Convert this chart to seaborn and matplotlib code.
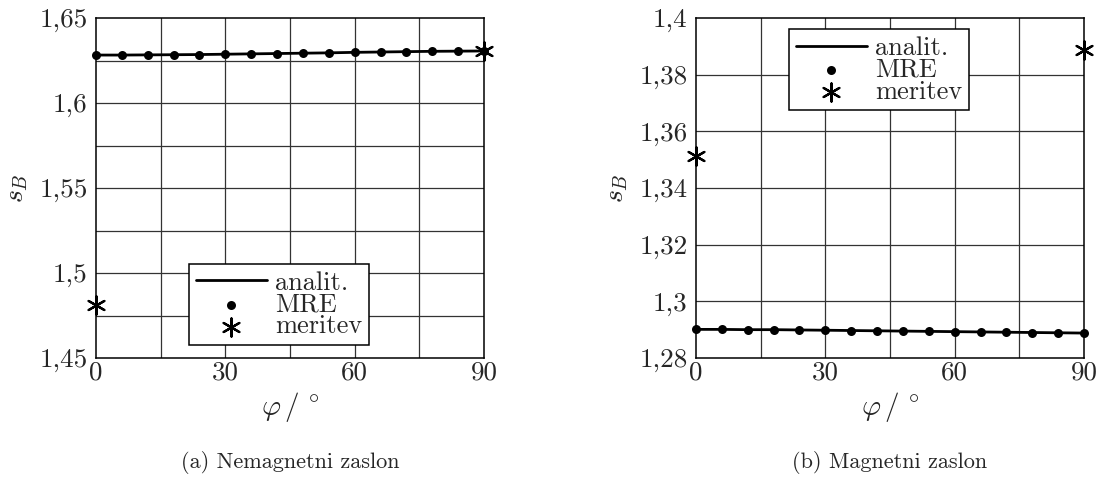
import numpy as np
import pandas as pd
import matplotlib
matplotlib.use("Agg")
import matplotlib.pyplot as plt
import seaborn as sns

# ---- data ----
phi = [0, 6, 12, 18, 24, 30, 36, 42, 48, 54, 60, 66, 72, 78, 84, 90]
left_analit = [1.6282, 1.6282, 1.6283, 1.6284, 1.6285, 1.6287, 1.6289, 1.6291,
               1.6293, 1.6295, 1.6298, 1.6300, 1.6302, 1.6304, 1.6305, 1.6306]
left_mre = [1.6282, 1.6282, 1.6283, 1.6284, 1.6285, 1.6287, 1.6289, 1.6291,
            1.6293, 1.6295, 1.6298, 1.6300, 1.6302, 1.6304, 1.6305, 1.6306]
right_analit = [1.2901, 1.2901, 1.2900, 1.2900, 1.2899, 1.2898, 1.2897, 1.2896,
                1.2895, 1.2894, 1.2893, 1.2892, 1.2891, 1.2890, 1.2889, 1.2888]
right_mre = [1.2901, 1.2901, 1.2900, 1.2900, 1.2899, 1.2898, 1.2897, 1.2896,
             1.2895, 1.2894, 1.2893, 1.2892, 1.2891, 1.2890, 1.2889, 1.2888]
meas_phi = [0, 90]
left_meas = [1.4812, 1.6306]
right_meas = [1.3512, 1.3888]

left_yticks = [1.45, 1.5, 1.55, 1.6, 1.65]
left_yticklabels = ["1,45", "1,5", "1,55", "1,6", "1,65"]
right_yticks = [1.28, 1.3, 1.32, 1.34, 1.36, 1.38, 1.4]
right_yticklabels = ["1,28", "1,3", "1,32", "1,34", "1,36", "1,38", "1,4"]
xticks = [0, 30, 60, 90]
xticklabels = ["0", "30", "60", "90"]
labels = ["analit.", "MRE", "meritev"]
captions = ["(a) Nemagnetni zaslon", "(b) Magnetni zaslon"]

sns.set_theme(style="white")
plt.rcParams["font.family"] = ["cmr10", "DejaVu Serif"]
plt.rcParams["mathtext.fontset"] = "cm"
plt.rcParams["axes.unicode_minus"] = False
plt.rcParams["axes.formatter.use_mathtext"] = True

fig = plt.figure(figsize=(11.02, 4.95), dpi=100)
FS_TICK = 19.5
FS_LEG = 19
FS_XLAB = 21
FS_YLAB = 20
FS_CAP = 16
ast = (6, 2, 0)

def draw(ax, analit, mre, meas, ylim, yticks, yticklabels, ygrid, legloc):
    df_a = pd.DataFrame({"phi": phi, "s": analit})
    df_m = pd.DataFrame({"phi": phi, "s": mre})
    df_e = pd.DataFrame({"phi": meas_phi, "s": meas})
    sns.lineplot(data=df_a, x="phi", y="s", ax=ax, color="black", lw=2.0,
                 label=labels[0], zorder=3, clip_on=False)
    sns.scatterplot(data=df_m, x="phi", y="s", ax=ax, color="black", s=42,
                    marker="o", edgecolor="black", linewidth=0, label=labels[1],
                    zorder=4, clip_on=False)
    sns.scatterplot(data=df_e, x="phi", y="s", ax=ax, color="black", s=170,
                    marker=ast, linewidth=1.6, edgecolor="black",
                    label=labels[2], zorder=5, clip_on=False)
    ax.set_xlim(0, 90)
    ax.set_ylim(*ylim)
    ax.set_xticks(xticks)
    ax.set_xticklabels(xticklabels, fontsize=FS_TICK)
    ax.set_yticks(yticks)
    ax.set_yticklabels(yticklabels, fontsize=FS_TICK)
    for gx in range(15, 90, 15):
        ax.axvline(gx, color="#333333", lw=0.9, zorder=1)
    for gy in ygrid:
        ax.axhline(gy, color="#333333", lw=0.9, zorder=1)
    ax.tick_params(length=0, pad=6)
    ax.tick_params(axis="x", pad=2)
    for sp in ax.spines.values():
        sp.set_color("black")
        sp.set_linewidth(1.1)
    ax.set_xlabel(r"$\varphi\,/\,^\circ$", fontsize=FS_XLAB, labelpad=4)
    ax.set_ylabel(r"$s_B$", fontsize=FS_YLAB, labelpad=7)
    leg = ax.legend(loc="lower left", bbox_to_anchor=legloc, fontsize=FS_LEG,
                    frameon=True, fancybox=False, edgecolor="black",
                    framealpha=1, borderpad=0.25, labelspacing=-0.07,
                    handlelength=2.7, handletextpad=0.3, borderaxespad=0.0)
    leg.get_frame().set_linewidth(1.1)
    leg.set_zorder(10)

ax1 = fig.add_axes([96 / 1102, 1 - 358 / 495, 388 / 1102, 340 / 495])
draw(ax1, left_analit, left_mre, left_meas, (1.45, 1.65), left_yticks,
     left_yticklabels, [1.475, 1.5, 1.525, 1.55, 1.575, 1.6, 1.625],
     (0.24, 0.038))

ax2 = fig.add_axes([696 / 1102, 1 - 358 / 495, 388 / 1102, 340 / 495])
draw(ax2, right_analit, right_mre, right_meas, (1.28, 1.4), right_yticks,
     right_yticklabels, [1.3, 1.32, 1.34, 1.36, 1.38],
     (0.24, 0.729))

fig.text(290 / 1102, 1 - 462 / 495, captions[0], ha="center", va="center", fontsize=FS_CAP)
fig.text(890 / 1102, 1 - 462 / 495, captions[1], ha="center", va="center", fontsize=FS_CAP)

fig.savefig("out.png", dpi=100)
